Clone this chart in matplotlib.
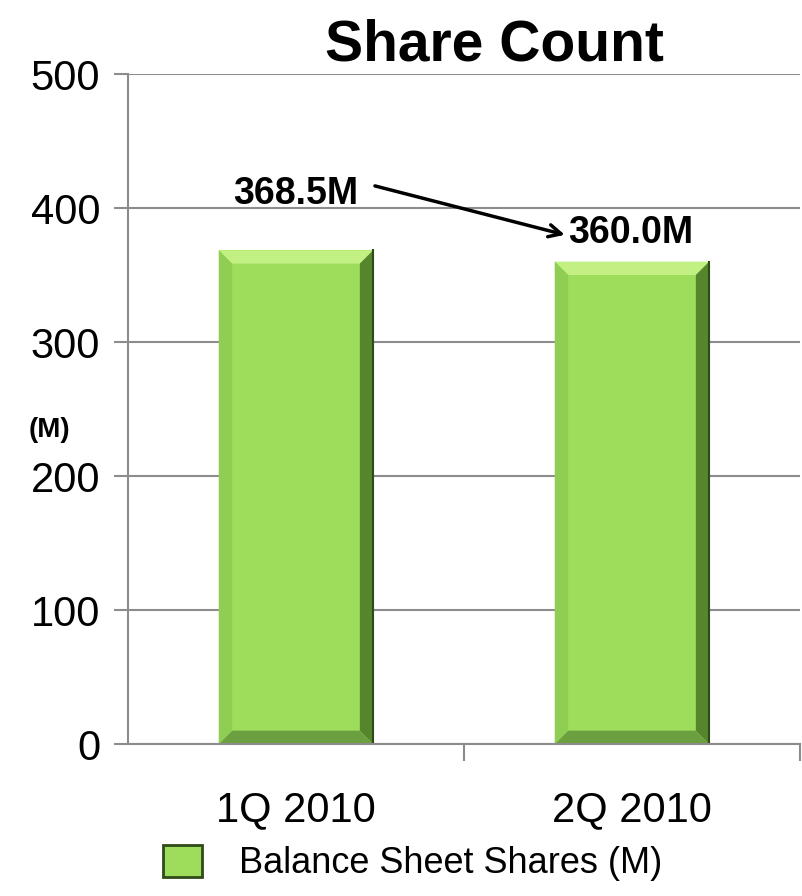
import matplotlib
matplotlib.use('Agg')
import matplotlib.pyplot as plt
from matplotlib.patches import Polygon, Patch

plt.rcParams['font.family'] = ['Liberation Sans', 'DejaVu Sans']

quarters = ['1Q 2010', '2Q 2010']
shares = [368.5, 360.0]
value_labels = ['368.5M', '360.0M']
yticks = [0, 100, 200, 300, 400, 500]

GREEN = '#9ddd5b'
GRID = '#8c8c8c'


def bevel(ax, rect, bx, by):
    # fake the bevelled look: four trapezoids around the bar edge
    x0, y0 = rect.get_x(), rect.get_y()
    x1, y1 = x0 + rect.get_width(), y0 + rect.get_height()
    faces = [
        ([(x0, y1), (x1, y1), (x1 - bx, y1 - by), (x0 + bx, y1 - by)], '#c2f083'),
        ([(x1, y1), (x1, y0), (x1 - bx, y0 + by), (x1 - bx, y1 - by)], '#55862c'),
        ([(x0, y0), (x1, y0), (x1 - bx, y0 + by), (x0 + bx, y0 + by)], '#6c9f40'),
        ([(x0, y0), (x0, y1), (x0 + bx, y1 - by), (x0 + bx, y0 + by)], '#8fce52'),
    ]
    for pts, c in faces:
        ax.add_patch(Polygon(pts, closed=True, facecolor=c, edgecolor='none', zorder=3))
    ax.plot([x1, x1], [y0, y1], color='#2f4a18', lw=1.5, zorder=4)


fig = plt.figure(figsize=(8.02, 8.96), dpi=100)
ax = fig.add_axes([0.1596, 0.1696, 0.8379, 0.7478])

x = list(range(len(quarters)))
bars = ax.bar(x, shares, width=0.46, color=GREEN, zorder=2)
for b in bars:
    bevel(ax, b, 0.04, 10)

ax.set_xlim(-0.5, 1.5)
ax.set_ylim(0, 500)
ax.set_yticks(yticks)
ax.set_yticklabels([str(t) for t in yticks], fontsize=30)
ax.set_xticks(x)
ax.set_xticklabels(quarters, fontsize=30)
ax.set_xticks([0.5, 1.5], minor=True)
ax.tick_params(axis='x', which='major', length=0, pad=33)
ax.tick_params(axis='x', which='minor', length=12, width=1.5, color=GRID)
ax.tick_params(axis='y', length=10, width=1.5, color=GRID, pad=10)

ax.grid(axis='y', color=GRID, lw=1.5, zorder=0)
ax.set_axisbelow(True)
for s in ['top', 'right']:
    ax.spines[s].set_visible(False)
for s in ['left', 'bottom']:
    ax.spines[s].set_color(GRID)
    ax.spines[s].set_linewidth(1.5)
    ax.spines[s].set_zorder(5)

ax.set_title('Share Count', fontsize=41, fontweight='bold', pad=10, x=0.545)

# value labels with the arrow showing the drop between quarters
ax.text(x[0], shares[0] + 42, value_labels[0], ha='center', va='center',
        fontsize=27, fontweight='bold')
ax.text(x[1] - 0.005, shares[1] + 21, value_labels[1], ha='center', va='center',
        fontsize=27, fontweight='bold')
ax.annotate('', xy=(x[1] - 0.2, shares[1] + 20), xytext=(x[0] + 0.235, shares[0] + 48),
            arrowprops=dict(arrowstyle='->', color='black', lw=2.5,
                            mutation_scale=22, shrinkA=0, shrinkB=0))

fig.text(0.062, 0.52, '(M)', fontsize=20, fontweight='bold', ha='center', va='center')

fig.legend(handles=[Patch(facecolor=GREEN, edgecolor='#2f4a18', linewidth=2)],
           labels=['Balance Sheet Shares (M)'], loc='center',
           bbox_to_anchor=(0.514, 0.037), frameon=False, fontsize=26,
           handlelength=1.1, handleheight=1.0, handletextpad=1.0)

fig.savefig('out.png', dpi=100)
